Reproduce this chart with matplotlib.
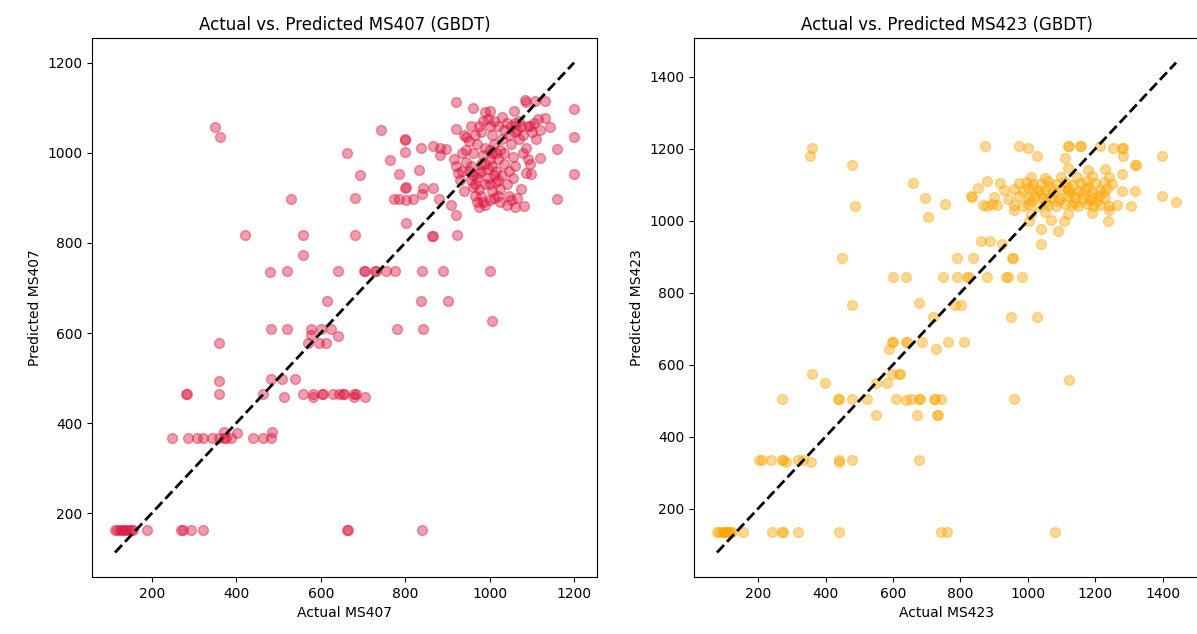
import numpy as np
import matplotlib
matplotlib.use("Agg")
import matplotlib.pyplot as plt

# MS407: (actual, predicted)
ms407_pts = [
    (350, 1056), (362, 1035), (742, 1050), (800, 1030), (800, 1028), (920, 1113), (960, 1099),
    (1083, 1116), (1085, 1113), (1107, 1115), (1132, 1115), (1200, 1097), (1200, 1035), (1200, 953),
    (1160, 1009), (1160, 897), (1143, 1056), (1132, 1076), (1119, 989), (1099, 953), (1081, 882),
    (1057, 1092), (1000, 1093), (920, 1052), (945, 1036), (838, 1010), (800, 1002), (866, 1015),
    (882, 1010), (896, 1009), (882, 996), (663, 1000), (765, 983), (833, 962), (786, 952), (693, 950),
    (800, 921), (802, 923), (842, 921), (840, 909), (773, 898), (786, 897), (803, 896), (818, 897),
    (866, 921), (879, 897), (909, 883), (920, 862), (803, 844), (681, 900), (530, 897), (420, 817),
    (559, 817), (681, 817), (863, 816), (866, 816), (922, 817), (559, 773), (481, 735), (520, 738),
    (640, 738), (702, 738), (706, 738), (728, 738), (732, 738), (754, 738), (777, 738), (841, 738),
    (890, 738), (1000, 738), (614, 670), (838, 670), (902, 670),
    (1006, 626), (482, 608), (520, 608), (577, 608), (601, 608), (625, 608), (577, 596), (640, 593),
    (569, 578), (597, 578), (613, 578), (360, 578), (780, 608), (843, 608), (360, 493), (281, 464),
    (283, 464), (360, 464), (464, 464), (482, 499), (508, 499), (539, 499), (513, 458), (559, 464),
    (581, 458), (581, 464), (603, 464), (605, 464), (630, 464), (644, 464), (653, 464), (656, 464),
    (680, 464), (683, 464), (680, 458), (705, 458),
    (249, 367), (286, 367), (307, 367), (322, 367), (343, 367), (360, 367), (372, 367), (375, 367),
    (388, 367), (372, 380), (401, 378), (440, 367), (464, 367), (482, 367), (484, 380),
    (113, 164), (118, 164), (125, 164), (130, 164), (135, 164), (140, 164), (145, 164), (150, 164),
    (155, 164), (188, 164), (270, 164), (275, 164), (292, 164), (322, 164), (663, 164), (665, 164),
    (841, 164),
    # dense cluster
    (935, 1000), (945, 980), (950, 960), (955, 940), (960, 925), (965, 905), (970, 890), (975, 955),
    (980, 975), (985, 995), (990, 1010), (995, 945), (1000, 930), (1005, 915), (1010, 900), (1015, 960),
    (1020, 985), (1025, 1005), (1030, 1030), (1035, 1050), (1040, 1065), (1045, 1040), (1050, 1020),
    (1055, 990), (1060, 970), (1065, 1050), (1070, 1070), (1075, 1060), (1080, 1040), (1085, 1010),
    (1090, 985), (1095, 1060), (1100, 1045), (1105, 1065), (1110, 1030), (1115, 1075), (1120, 1050),
    (960, 1000), (965, 1040), (970, 1020), (975, 1060), (980, 1045), (985, 1070), (990, 1090),
    (995, 1075), (1000, 1060), (1005, 1040), (1010, 1020), (1015, 1000), (1020, 940), (1025, 920),
    (1030, 950), (1035, 975), (1040, 930), (1045, 905), (1050, 895), (955, 970), (960, 950), (965, 930),
    (975, 920), (980, 905), (985, 890), (990, 930), (995, 965), (1000, 985), (1005, 970), (1010, 950),
    (1015, 935), (1020, 905), (1025, 890), (940, 915), (930, 940), (925, 955), (920, 970), (915, 985),
    (935, 960), (945, 1005), (950, 1025), (940, 1040), (955, 1060), (1000, 1005), (1005, 1000),
    (990, 975), (980, 960), (970, 945), (1060, 1045), (1070, 1030), (1080, 1000), (1090, 1060),
    (1065, 900), (1075, 920), (1055, 945), (1085, 955), (1095, 975), (1030, 1080), (1050, 1060),
    (1060, 1065), (1000, 895), (990, 885), (975, 880), (1040, 885), (1060, 880), (1010, 1070),
    (1020, 1060), (1035, 1000), (1045, 960),
]

# MS423: (actual, predicted)
ms423_pts = [
    (360, 1203), (355, 1180), (478, 1155), (486, 1040), (661, 1106), (694, 1063), (755, 1048),
    (704, 1011), (874, 1209), (975, 1209), (1002, 1203), (1027, 1181), (1119, 1209), (1122, 1209),
    (1154, 1209), (1157, 1209), (1213, 1209), (1253, 1203), (1280, 1203), (1284, 1203), (1283, 1180),
    (1317, 1155), (1320, 1155), (1397, 1180), (1397, 1070), (1440, 1052), (1318, 1084), (1307, 1040),
    (1238, 999), (1280, 1130), (1280, 1084), (1040, 977), (1038, 937), (1089, 971), (1107, 1000),
    (862, 945), (889, 945), (923, 937), (833, 1070), (835, 1065), (852, 1090), (878, 1110), (917, 1105),
    (449, 896), (599, 844), (638, 844), (750, 844), (791, 844), (821, 844), (825, 844), (880, 844),
    (936, 844), (940, 844), (984, 844), (791, 896), (839, 896), (954, 896), (957, 896), (478, 766),
    (678, 771), (784, 766), (802, 766), (718, 734), (951, 734), (1028, 734),
    (596, 662), (599, 662), (587, 645), (638, 662), (641, 662), (686, 662), (729, 645), (762, 662),
    (812, 662), (361, 575), (399, 549), (551, 549), (581, 549), (596, 575), (617, 575), (620, 575),
    (272, 506), (438, 506), (441, 506), (478, 506), (522, 506), (609, 506), (639, 503), (654, 506),
    (676, 506), (679, 506), (723, 506), (726, 506), (742, 506), (551, 460), (671, 460), (731, 460),
    (733, 460), (958, 506), (1122, 557),
    (203, 335), (213, 335), (238, 335), (272, 335), (275, 335), (282, 329), (317, 335), (332, 335),
    (357, 329), (439, 335), (439, 329), (478, 335), (678, 335),
    (78, 135), (85, 135), (92, 135), (98, 135), (103, 135), (108, 135), (113, 135), (118, 135),
    (124, 135), (155, 135), (240, 135), (272, 135), (275, 135), (319, 135), (439, 135), (744, 135),
    (761, 135), (1080, 135),
    # dense cluster
    (866, 1045), (880, 1042), (895, 1046), (910, 1043), (960, 1044), (985, 1040), (1000, 1047),
    (1030, 1042), (1060, 1045), (1085, 1041), (1110, 1046), (1130, 1043), (1150, 1040), (1175, 1046),
    (1195, 1042), (1215, 1045), (1240, 1041), (1265, 1044),
    (900, 1066), (940, 1062), (975, 1068), (1005, 1064), (1020, 1070), (1045, 1063), (1070, 1067),
    (1095, 1062), (1120, 1068), (1140, 1065), (1165, 1061), (1190, 1066), (1210, 1070), (1230, 1063),
    (930, 1085), (960, 1088), (985, 1082), (1000, 1090), (1030, 1084), (1050, 1087), (1075, 1081),
    (1100, 1089), (1120, 1085), (1150, 1083), (1170, 1088), (1190, 1080), (1215, 1086), (1235, 1090),
    (975, 1105), (995, 1108), (1015, 1102), (1040, 1106), (1060, 1110), (1085, 1103), (1110, 1107),
    (1135, 1101), (1155, 1106), (1175, 1110), (1200, 1104), (1225, 1108), (1250, 1102),
    (1010, 1122), (1050, 1120), (1100, 1123), (1145, 1121), (1190, 1124), (1240, 1122),
    (1120, 1148), (1180, 1142), (1230, 1145), (1110, 1175),
    (1010, 1055), (1040, 1075), (1065, 1095), (1090, 1055), (1115, 1095), (1140, 1050), (1160, 1075),
    (1180, 1095), (1205, 1055), (1225, 1080), (1015, 1090), (1055, 1052), (1125, 1078), (1185, 1058),
    (1010, 1020), (1050, 1025), (1120, 1020), (1190, 1022), (1240, 1030), (1005, 1000), (960, 1030),
    (1070, 1003),
]

ms407 = np.array(ms407_pts)
ms423 = np.array(ms423_pts)

fig = plt.figure(figsize=(11.97, 6.34), dpi=100)
ax1 = fig.add_axes([0.0769, 0.0899, 0.4219, 0.850])
ax2 = fig.add_axes([0.5798, 0.0899, 0.4219, 0.850])

panels = [
    (ax1, ms407, "crimson", "MS407"),
    (ax2, ms423, "orange", "MS423"),
]
for ax, d, col, name in panels:
    act, pred = d[:, 0], d[:, 1]
    ax.scatter(act, pred, s=50, color=col, alpha=0.42)
    lo, hi = act.min(), act.max()
    ax.plot([lo, hi], [lo, hi], "k--", lw=2)
    ax.set_xlabel("Actual " + name)
    ax.set_ylabel("Predicted " + name)
    ax.set_title("Actual vs. Predicted " + name + " (GBDT)")

fig.savefig("out.png", dpi=100)
